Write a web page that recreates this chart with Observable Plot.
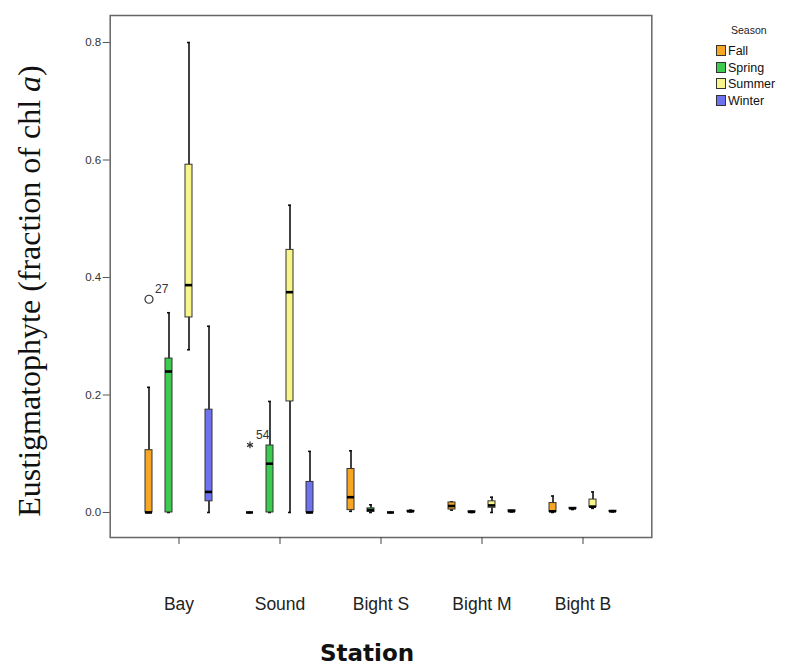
<!DOCTYPE html>
<html>
<head>
<meta charset="utf-8">
<script src="https://cdn.jsdelivr.net/npm/d3@7"></script>
<script src="https://cdn.jsdelivr.net/npm/@observablehq/plot@0.6"></script>
<style>
  body { margin: 0; background: white; }
  #wrap { position: relative; width: 787px; height: 666px; }
  #legend { position: absolute; left: 0; top: 0; font-family: "Liberation Sans", Arial, sans-serif; }
  .lg-title { position: absolute; left: 731px; top: 24px; font-size: 10.5px; color: #222; }
  .lg-item { position: absolute; left: 716px; font-size: 12.5px; color: #111; line-height: 12px; white-space: nowrap; }
  .lg-sw { display: inline-block; width: 8px; height: 9px; border: 1px solid #333; vertical-align: top; margin-right: 2px; }
</style>
</head>
<body>
<div id="wrap"></div>
<script>
// ---- data ----
const stations = ["Bay", "Sound", "Bight S", "Bight M", "Bight B"];
const seasons = ["Fall", "Spring", "Summer", "Winter"];
const seasonColors = ["#F6A623", "#3CCB4F", "#F8F68A", "#6E72EE"];

// box summaries, station-major order (Bay Fall, Bay Spring, ... Bight B Winter)
const whiskerLow  = [0, 0, 0.277, 0,      0, 0, 0, 0,          0.002, 0, 0, 0.001,      0.004, 0, 0.000, 0.001,      0, 0.005, 0.007, 0.001];
const q1          = [0, 0, 0.332, 0.019,  0, 0, 0.189, 0,      0.004, 0.001, 0, 0.001,  0.005, 0, 0.008, 0.001,      0.001, 0.006, 0.009, 0.001];
const median      = [0, 0.240, 0.387, 0.035, 0, 0.083, 0.375, 0, 0.026, 0.004, 0, 0.002, 0.011, 0.001, 0.012, 0.002, 0.002, 0.007, 0.010, 0.002];
const q3          = [0.106, 0.262, 0.592, 0.175, 0, 0.114, 0.447, 0.052, 0.074, 0.007, 0, 0.003, 0.017, 0.002, 0.019, 0.004, 0.016, 0.008, 0.022, 0.003];
const whiskerHigh = [0.213, 0.340, 0.800, 0.317, 0, 0.189, 0.523, 0.104, 0.105, 0.013, 0, 0.004, 0.018, 0.002, 0.026, 0.004, 0.028, 0.008, 0.035, 0.003];

// outliers
const outStation = ["Bay", "Sound"];
const outSeason = ["Fall", "Fall"];
const outValue = [0.363, 0.115];
const outLabel = ["27", "54"];
const outSymbol = ["circle", "asterisk"];
const outSize = [4, 3.2];

const yTicks = [0, 0.2, 0.4, 0.6, 0.8];

// ---- build tables ----
const boxes = [];
stations.forEach((st, i) => seasons.forEach((se, j) => {
  const k = i * seasons.length + j;
  boxes.push({station: st, season: se, lo: whiskerLow[k], q1: q1[k], med: median[k], q3: q3[k], hi: whiskerHigh[k]});
}));
const outliers = outStation.map((st, i) => ({station: st, season: outSeason[i], value: outValue[i], label: outLabel[i], symbol: outSymbol[i], size: outSize[i]}));

const W = 787, H = 666, mL = 108, mR = 134, mT = 15, mB = 129;
const fxPadOuter = 0.18;
// outer gap of the facet band scale, so frame and y axis sit at the plot edge
const fxStep = (W - mL - mR) / (stations.length + 2 * fxPadOuter);
const outerGap = fxPadOuter * fxStep;

const plot = Plot.plot({
  width: W,
  height: H,
  marginTop: mT,
  marginLeft: mL,
  marginRight: mR,
  marginBottom: mB,
  style: {fontFamily: "'Liberation Sans', Arial, sans-serif", fontSize: "11px", background: "white", color: "#222"},
  fx: {domain: stations, paddingInner: 0, paddingOuter: fxPadOuter, label: null},
  x: {domain: seasons, paddingInner: 0.66, paddingOuter: 0.79, axis: null},
  y: {domain: [-0.0426, 0.846], label: null},
  r: {type: "identity"},
  color: {domain: seasons, range: seasonColors},
  marks: [
    Plot.frame({facet: "super", stroke: "#666", strokeWidth: 1.5, insetLeft: -outerGap, insetRight: -outerGap}),
    Plot.axisY({ticks: yTicks, tickFormat: ".1f", tickSize: 7, tickPadding: 2, label: null, stroke: "#555", fontSize: 11.5, fill: "#333", dx: -outerGap}),
    Plot.axisFx({anchor: "bottom", tickSize: 7, tickPadding: 53, label: null, fontSize: 17.5, stroke: "#444", fill: "#222"}),
    Plot.ruleX(boxes, {fx: "station", x: "season", y1: "lo", y2: "hi", stroke: "#111", strokeWidth: 1.6}),
    Plot.tickY(boxes, {fx: "station", x: "season", y: "hi", stroke: "#111", strokeWidth: 1.6, insetLeft: 2, insetRight: 2}),
    Plot.tickY(boxes, {fx: "station", x: "season", y: "lo", stroke: "#111", strokeWidth: 1.6, insetLeft: 2, insetRight: 2}),
    Plot.barY(boxes, {fx: "station", x: "season", y1: "q1", y2: "q3", fill: "season", stroke: "#333", strokeWidth: 1}),
    Plot.tickY(boxes, {fx: "station", x: "season", y: "med", stroke: "#000", strokeWidth: 2.6}),
    Plot.dot(outliers, {fx: "station", x: "season", y: "value", symbol: "symbol", r: "size", stroke: "#333", strokeWidth: 1.2, fill: "none"}),
    Plot.text(outliers, {fx: "station", x: "season", y: "value", text: "label", dx: 6, dy: -10, textAnchor: "start", fontSize: 12, fill: "#333"})
  ]
});

const wrap = document.getElementById("wrap");
wrap.appendChild(plot);

// y axis title with italic "a"
const svg = d3.select(plot);
const yt = svg.append("text")
  .attr("transform", "translate(40,291) rotate(-90)")
  .attr("text-anchor", "middle")
  .attr("font-family", "'Liberation Serif', 'Times New Roman', serif")
  .attr("font-size", 32)
  .attr("fill", "#111");
yt.append("tspan").text("Eustigmatophyte (fraction of chl ");
yt.append("tspan").attr("font-style", "italic").text("a");
yt.append("tspan").text(")");

// x axis title
svg.append("text")
  .attr("x", 367).attr("y", 661)
  .attr("text-anchor", "middle")
  .attr("font-family", "'DejaVu Sans', Verdana, sans-serif")
  .attr("font-weight", "bold")
  .attr("font-size", 23)
  .attr("fill", "#111")
  .text("Station");

// legend
const color = plot.scale("color");
const lg = document.createElement("div");
lg.id = "legend";
let html = `<div class="lg-title">Season</div>`;
seasons.forEach((s, i) => {
  html += `<div class="lg-item" style="top:${45 + i * 16.5}px"><span class="lg-sw" style="background:${color.apply(s)}"></span>${s}</div>`;
});
lg.innerHTML = html;
wrap.appendChild(lg);
</script>
</body>
</html>
